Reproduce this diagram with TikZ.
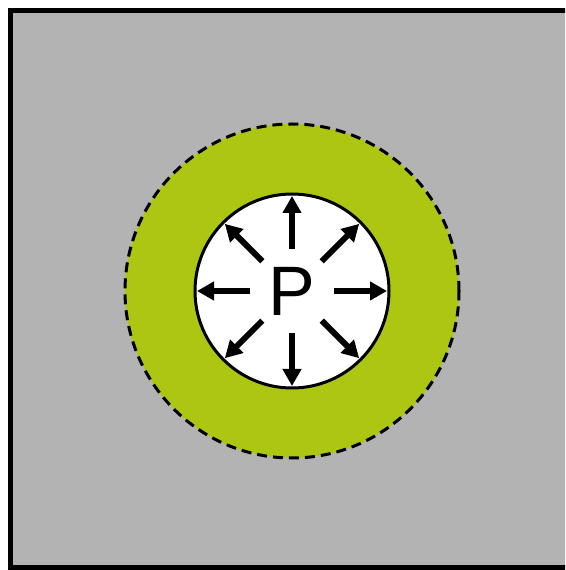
\documentclass[tikz,border=0pt]{standalone}
\usepackage{fontspec}
\setmainfont{Liberation Sans}
\usepackage{tikz}
\usetikzlibrary{arrows.meta, positioning, calc}
\definecolor{ground}{HTML}{B3B3B3}
\definecolor{zone}{HTML}{ADC612}

\begin{document}
\begin{tikzpicture}[
  x=1pt, y=1pt,
  soil/.style={draw, fill=ground, line width=5pt},
  halo/.style={circle, draw, fill=zone, line width=3pt, dash pattern=on 10pt off 6pt, minimum size=334pt, inner sep=0pt},
  core/.style={circle, draw, fill=white, line width=3pt, minimum size=194pt, inner sep=0pt, font=\fontsize{70}{70}\selectfont},
  arr/.style={-{Triangle[length=17pt, width=18pt]}, line width=6pt},
]

\useasboundingbox (0,0) rectangle (565,570);
\clip (0,0) rectangle (565,570);

\draw[soil] (10.5,2) rectangle (590,559.5);

\node[halo] (ring) at (292,279) {};
\node[core] (pore) at (ring.center) {P};

% pressure pushing outward
\foreach \a in {0,45,...,315}
  \draw[arr] ($(pore.center)+(\a:42)$) -- ($(pore.center)+(\a:95)$);

\end{tikzpicture}
\end{document}
